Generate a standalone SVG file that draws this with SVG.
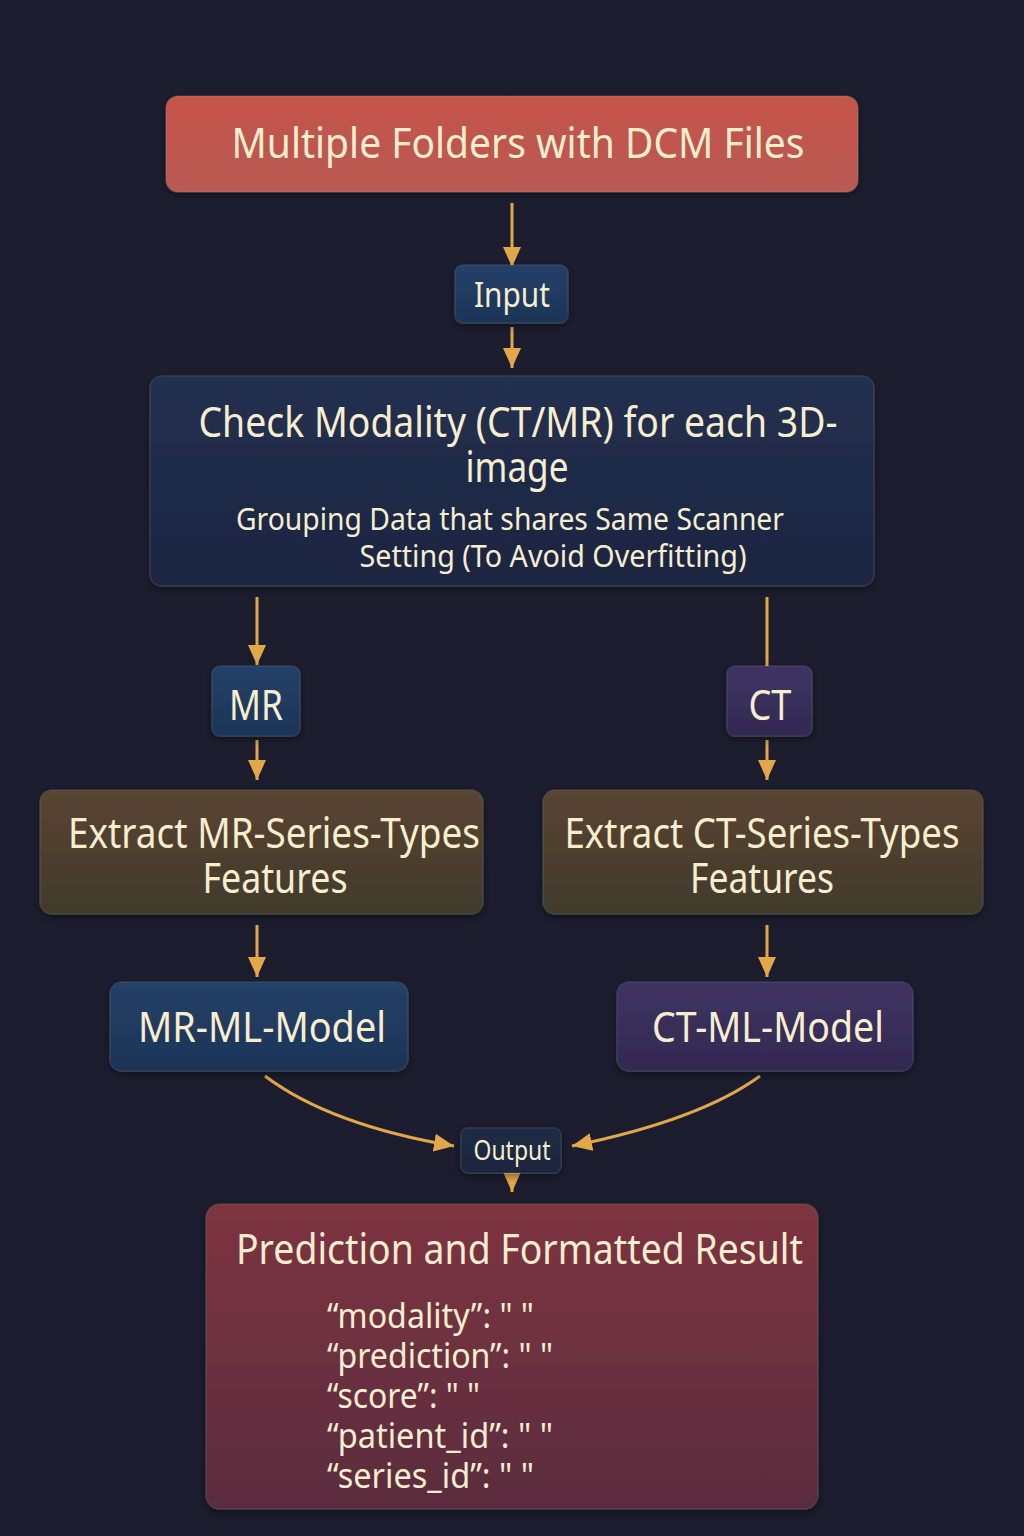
<svg xmlns="http://www.w3.org/2000/svg" width="1024" height="1536" viewBox="0 0 1024 1536">
<defs>
<linearGradient id="bg" x1="0" y1="0" x2="0" y2="1"><stop offset="0" stop-color="#1c1e30"/><stop offset="1" stop-color="#1b1d2e"/></linearGradient>
<linearGradient id="gRed" x1="0" y1="0" x2="0" y2="1"><stop offset="0" stop-color="#c5544a"/><stop offset="1" stop-color="#b85a52"/></linearGradient>
<linearGradient id="gNavy" x1="0" y1="0" x2="0" y2="1"><stop offset="0" stop-color="#22304f"/><stop offset="1" stop-color="#1c2540"/></linearGradient>
<linearGradient id="gBlue" x1="0" y1="0" x2="0" y2="1"><stop offset="0" stop-color="#234068"/><stop offset="1" stop-color="#1d3456"/></linearGradient>
<linearGradient id="gPurple" x1="0" y1="0" x2="0" y2="1"><stop offset="0" stop-color="#3d3362"/><stop offset="1" stop-color="#322a52"/></linearGradient>
<linearGradient id="gBrown" x1="0" y1="0" x2="0" y2="1"><stop offset="0" stop-color="#5a4431"/><stop offset="1" stop-color="#413a2c"/></linearGradient>
<linearGradient id="gWine" x1="0" y1="0" x2="0" y2="1"><stop offset="0" stop-color="#7e3441"/><stop offset="1" stop-color="#5a2c3e"/></linearGradient>
<linearGradient id="gOut" x1="0" y1="0" x2="0" y2="1"><stop offset="0" stop-color="#1e2c45"/><stop offset="1" stop-color="#1a263d"/></linearGradient>
<filter id="sh" x="-10%" y="-10%" width="120%" height="130%"><feDropShadow dx="0" dy="3" stdDeviation="4" flood-color="#000" flood-opacity="0.45"/></filter>
<marker id="ah" markerUnits="userSpaceOnUse" markerWidth="22" markerHeight="18" refX="20" refY="9" orient="auto"><path d="M0,0 L20,9 L0,18 z" fill="#e2a748"/></marker>
</defs>
<style>
.t{font-family:"Noto Sans","Open Sans",sans-serif;fill:#f7edcf}
.c{stroke:#e2a748;stroke-width:3;fill:none}
.b{stroke:#ffffff;stroke-opacity:0.08;stroke-width:1.5}
</style>
<rect width="1024" height="1536" fill="url(#bg)"/>

<g id="connectors">
<line class="c" x1="512" y1="203" x2="512" y2="267" marker-end="url(#ah)"/>
<line class="c" x1="512" y1="327" x2="512" y2="368" marker-end="url(#ah)"/>
<line class="c" x1="257" y1="597" x2="257" y2="665" marker-end="url(#ah)"/>
<line class="c" x1="767" y1="597" x2="767" y2="667"/>
<line class="c" x1="257" y1="740" x2="257" y2="780" marker-end="url(#ah)"/>
<line class="c" x1="767" y1="740" x2="767" y2="780" marker-end="url(#ah)"/>
<line class="c" x1="257" y1="925" x2="257" y2="977" marker-end="url(#ah)"/>
<line class="c" x1="767" y1="925" x2="767" y2="977" marker-end="url(#ah)"/>
<path class="c" d="M265,1076 Q330,1125 454,1146" marker-end="url(#ah)"/>
<path class="c" d="M760,1076 Q700,1120 572,1146" marker-end="url(#ah)"/>
<line class="c" x1="512" y1="1176" x2="512" y2="1192" marker-end="url(#ah)"/>
</g>

<g id="n_folders">
<rect class="b" x="166" y="96" width="692" height="96" rx="12" fill="url(#gRed)" filter="url(#sh)"/>
<text class="t" x="518" y="158" font-size="42" text-anchor="middle" textLength="573" lengthAdjust="spacingAndGlyphs">Multiple Folders with DCM Files</text>
</g>

<g id="n_input">
<rect class="b" x="455" y="265" width="113" height="58" rx="8" fill="url(#gBlue)" filter="url(#sh)"/>
<text class="t" x="512" y="307" font-size="34" text-anchor="middle" textLength="76" lengthAdjust="spacingAndGlyphs">Input</text>
</g>

<g id="n_check">
<rect class="b" x="150" y="376" width="724" height="210" rx="12" fill="url(#gNavy)" filter="url(#sh)"/>
<text class="t" x="518" y="437" font-size="42" text-anchor="middle" textLength="639" lengthAdjust="spacingAndGlyphs">Check Modality (CT/MR) for each 3D-</text>
<text class="t" x="517" y="482" font-size="42" text-anchor="middle" textLength="103" lengthAdjust="spacingAndGlyphs">image</text>
<text class="t" x="510" y="530" font-size="31" text-anchor="middle" textLength="548" lengthAdjust="spacingAndGlyphs">Grouping Data that shares Same Scanner</text>
<text class="t" x="553" y="567" font-size="31" text-anchor="middle" textLength="387" lengthAdjust="spacingAndGlyphs">Setting (To Avoid Overfitting)</text>
</g>

<g id="n_mr">
<rect class="b" x="212" y="666" width="88" height="70" rx="8" fill="url(#gBlue)" filter="url(#sh)"/>
<text class="t" x="256" y="720" font-size="42" text-anchor="middle" textLength="54" lengthAdjust="spacingAndGlyphs">MR</text>
</g>

<g id="n_ct">
<rect class="b" x="727" y="666" width="85" height="70" rx="8" fill="url(#gPurple)" filter="url(#sh)"/>
<text class="t" x="770" y="720" font-size="42" text-anchor="middle" textLength="43" lengthAdjust="spacingAndGlyphs">CT</text>
</g>

<g id="n_extract_mr">
<rect class="b" x="40" y="790" width="443" height="124" rx="12" fill="url(#gBrown)" filter="url(#sh)"/>
<text class="t" x="274" y="848" font-size="42" text-anchor="middle" textLength="412" lengthAdjust="spacingAndGlyphs">Extract MR-Series-Types</text>
<text class="t" x="275" y="893" font-size="42" text-anchor="middle" textLength="145" lengthAdjust="spacingAndGlyphs">Features</text>
</g>

<g id="n_extract_ct">
<rect class="b" x="543" y="790" width="440" height="124" rx="12" fill="url(#gBrown)" filter="url(#sh)"/>
<text class="t" x="762" y="848" font-size="42" text-anchor="middle" textLength="395" lengthAdjust="spacingAndGlyphs">Extract CT-Series-Types</text>
<text class="t" x="762" y="893" font-size="42" text-anchor="middle" textLength="144" lengthAdjust="spacingAndGlyphs">Features</text>
</g>

<g id="n_mr_model">
<rect class="b" x="110" y="982" width="298" height="89" rx="12" fill="url(#gBlue)" filter="url(#sh)"/>
<text class="t" x="262" y="1042" font-size="42" text-anchor="middle" textLength="248" lengthAdjust="spacingAndGlyphs">MR-ML-Model</text>
</g>

<g id="n_ct_model">
<rect class="b" x="617" y="982" width="296" height="89" rx="12" fill="url(#gPurple)" filter="url(#sh)"/>
<text class="t" x="768" y="1042" font-size="42" text-anchor="middle" textLength="232" lengthAdjust="spacingAndGlyphs">CT-ML-Model</text>
</g>

<g id="n_output">
<rect class="b" x="461" y="1128" width="100" height="45" rx="7" fill="url(#gOut)" filter="url(#sh)"/>
<text class="t" x="512" y="1160" font-size="27" text-anchor="middle" textLength="77" lengthAdjust="spacingAndGlyphs">Output</text>
</g>

<g id="n_result">
<rect class="b" x="206" y="1204" width="612" height="305" rx="14" fill="url(#gWine)" filter="url(#sh)"/>
<text class="t" x="236" y="1264" font-size="42" textLength="567" lengthAdjust="spacingAndGlyphs">Prediction and Formatted Result</text>
<text class="t" x="327" y="1328" font-size="35" textLength="207" lengthAdjust="spacingAndGlyphs">“modality”: " "</text>
<text class="t" x="327" y="1368" font-size="35" textLength="226" lengthAdjust="spacingAndGlyphs">“prediction”: " "</text>
<text class="t" x="327" y="1408" font-size="35" textLength="153" lengthAdjust="spacingAndGlyphs">“score”: " "</text>
<text class="t" x="327" y="1448" font-size="35" textLength="226" lengthAdjust="spacingAndGlyphs">“patient_id”: " "</text>
<text class="t" x="327" y="1488" font-size="35" textLength="207" lengthAdjust="spacingAndGlyphs">“series_id”: " "</text>
</g>
</svg>
